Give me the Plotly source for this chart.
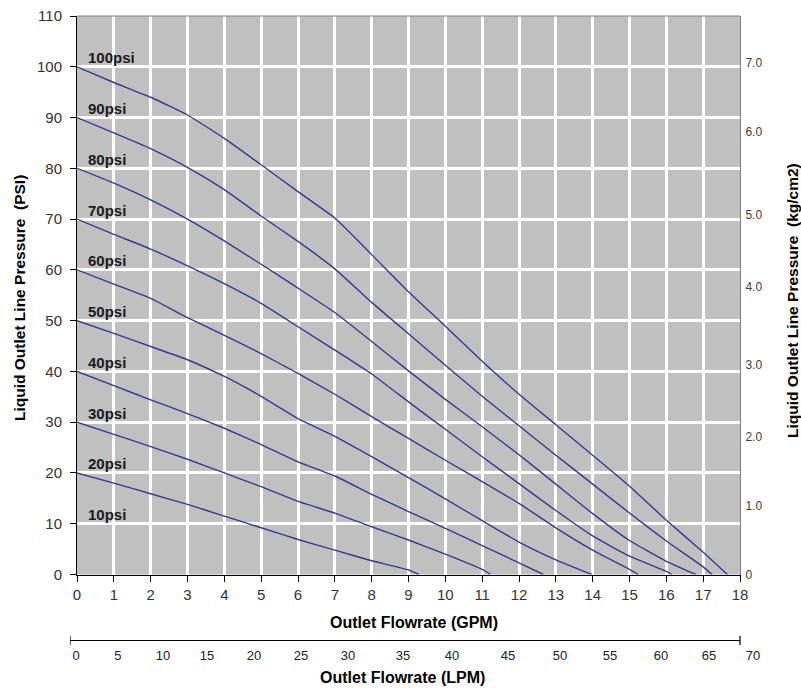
import plotly.graph_objects as go

# ---------------- data ----------------
GPM_TICKS = list(range(0, 19))
PSI_TICKS = list(range(0, 111, 10))

KG_LABELS = ["0", "1.0", "2.0", "3.0", "4.0", "5.0", "6.0", "7.0"]
KG_POS_PSI = [0, 13.5, 27.1, 41.4, 56.7, 70.8, 87.1, 100.7]

LPM_LABELS = ["0", "5", "10", "15", "20", "25", "30", "35", "40", "45",
              "50", "55", "60", "65", "70"]
LPM_POS = [0.63, 5.01, 9.72, 14.31, 19.22, 24.13, 29.04, 34.79, 39.91,
           45.76, 51.19, 56.42, 61.75, 66.76, 71.36]

CURVE_LABELS = ["10psi", "20psi", "30psi", "40psi", "50psi",
                "60psi", "70psi", "80psi", "90psi", "100psi"]
CURVE_LABEL_PSI = [10, 20, 30, 40, 50, 60, 70, 80, 90, 100]

C20_X = [0, 1, 2, 3, 4, 5, 6, 7, 8, 9, 9.28]
C20_Y = [20, 18.0, 15.9, 13.8, 11.5, 9.2, 6.9, 4.8, 2.7, 0.9, 0]

C30_X = [0, 1, 2, 3, 4, 5, 6, 7, 8, 9, 10, 11, 11.23]
C30_Y = [30, 27.6, 25.2, 22.7, 20.0, 17.3, 14.4, 12.1, 9.4, 6.8, 4.0, 1.0, 0]

C40_X = [0, 1, 2, 3, 4, 5, 6, 7, 8, 9, 10, 11, 12, 12.66]
C40_Y = [40, 37.2, 34.4, 31.7, 28.8, 25.6, 22.2, 19.4, 15.8, 12.4, 9.1, 5.7, 2.3, 0]

C50_X = [0, 1, 2, 3, 4, 5, 6, 7, 8, 9, 10, 11, 12, 13, 13.98]
C50_Y = [50, 47.5, 44.9, 42.3, 39.0, 35.1, 30.7, 27.2, 23.2, 19.1, 14.9, 10.6, 6.4, 2.9, 0]

C60_X = [0, 1, 2, 3, 4, 5, 6, 7, 8, 9, 10, 11, 12, 13, 14, 15, 15.24]
C60_Y = [60, 57.2, 54.4, 50.6, 47.1, 43.5, 39.6, 35.5, 31.1, 26.8, 22.5, 18.3,
         14.0, 9.2, 4.8, 1.0, 0]

C70_X = [0, 1, 2, 3, 4, 5, 6, 7, 8, 9, 10, 11, 12, 13, 14, 15, 16, 16.15]
C70_Y = [70, 67.0, 64.1, 60.8, 57.3, 53.4, 48.8, 44.2, 39.5, 34.0, 28.6, 23.2,
         17.9, 12.6, 7.6, 3.6, 0.6, 0]

C80_X = [0, 1, 2, 3, 4, 5, 6, 7, 8, 9, 10, 11, 12, 13, 14, 15, 16, 16.8]
C80_Y = [80, 77.1, 73.8, 70.0, 65.7, 61.1, 56.4, 51.6, 45.9, 40.1, 34.5, 29.1,
         23.6, 17.8, 12.0, 6.7, 2.6, 0]

C90_X = [0, 1, 2, 3, 4, 5, 6, 7, 8, 9, 10, 11, 12, 13, 14, 15, 16, 17, 17.24]
C90_Y = [90, 87.0, 83.9, 80.2, 75.8, 70.6, 65.6, 60.2, 53.6, 47.4, 41.2, 35.1,
         29.3, 23.5, 17.8, 12.1, 6.6, 1.5, 0]

C100_X = [0, 1, 2, 3, 4, 5, 6, 7, 8, 9, 10, 11, 12, 13, 14, 15, 16, 17, 17.66]
C100_Y = [100, 96.9, 94.0, 90.5, 85.9, 80.7, 75.4, 70.2, 63.0, 55.7, 48.9, 42.0,
          35.5, 29.5, 23.5, 17.4, 10.7, 4.4, 0]

CURVES = [(C20_X, C20_Y), (C30_X, C30_Y), (C40_X, C40_Y), (C50_X, C50_Y),
          (C60_X, C60_Y), (C70_X, C70_Y), (C80_X, C80_Y), (C90_X, C90_Y),
          (C100_X, C100_Y)]

# ---------------- figure ----------------
FONT = "Liberation Sans, Arial, sans-serif"
LINE_COLOR = "#38388f"

fig = go.Figure()
for cx, cy in CURVES:
    fig.add_trace(go.Scatter(x=cx, y=cy, mode="lines",
                             line=dict(color=LINE_COLOR, width=1.4,
                                       shape="spline", smoothing=0.4),
                             hoverinfo="skip", showlegend=False))

# invisible helper traces so the secondary axes are drawn
fig.add_trace(go.Scatter(x=[0], y=[0], yaxis="y2", mode="markers",
                         marker=dict(opacity=0), hoverinfo="skip", showlegend=False))
fig.add_trace(go.Scatter(x=[0], y=[0], xaxis="x2", yaxis="y3", mode="markers",
                         marker=dict(opacity=0), hoverinfo="skip", showlegend=False))

for lbl, p in zip(CURVE_LABELS, CURVE_LABEL_PSI):
    fig.add_annotation(x=0.25, y=p, xref="x", yref="y", text="<b>%s</b>" % lbl,
                       showarrow=False, xanchor="left", yanchor="middle",
                       yshift=9, font=dict(family=FONT, size=15, color="#1a1a1a"))

W, H = 801, 688
L, R, T, B = 40, 40, 16, 8
PW, PH = W - L - R, H - T - B


def px2x(px):
    return (px - L) / PW


def py2y(py):
    return (H - B - py) / PH


yl = py2y(640.5)

fig.update_layout(
    width=W, height=H,
    margin=dict(l=L, r=R, t=T, b=B, autoexpand=False),
    paper_bgcolor="white",
    plot_bgcolor="rgba(0,0,0,0)",
    showlegend=False,
    font=dict(family=FONT, color="#333333"),
    xaxis=dict(domain=[px2x(77), px2x(740)], range=[0, 18], tickvals=GPM_TICKS,
               showgrid=True, gridcolor="white", gridwidth=3, zeroline=False,
               showline=True, linecolor="black", linewidth=1,
               ticks="outside", ticklen=6, tickcolor="black",
               tickfont=dict(size=15, color="#333333")),
    yaxis=dict(domain=[py2y(574.5), 1], range=[0, 110], tickvals=PSI_TICKS,
               showgrid=True, gridcolor="white", gridwidth=3, zeroline=False,
               showline=True, linecolor="black", linewidth=1,
               ticks="outside", ticklen=6, tickcolor="black",
               ticklabelstandoff=5, ticklabeloverflow="allow",
               tickfont=dict(size=15, color="#333333")),
    yaxis2=dict(overlaying="y", side="right", range=[0, 110],
                tickvals=KG_POS_PSI, ticktext=KG_LABELS, showgrid=False,
                zeroline=False, showline=True, linecolor="#808080",
                ticks="", ticklabelstandoff=2,
                tickfont=dict(size=12, color="#404040")),
    yaxis3=dict(domain=[yl, yl + 0.002], range=[0, 1], visible=False,
                showgrid=False, zeroline=False, fixedrange=True),
    xaxis2=dict(anchor="y3", side="bottom",
                domain=[px2x(70), px2x(70 + 72 * 670 / 70)], range=[0, 72],
                tickvals=LPM_POS, ticktext=LPM_LABELS, showgrid=False,
                zeroline=False, showline=False, ticks="",
                ticklabelstandoff=5,
                tickfont=dict(size=13, color="#222222")),
)

# plot background and frame
fig.add_shape(type="rect", xref="x domain", yref="y domain", x0=0, x1=1, y0=0, y1=1,
              fillcolor="#c0c0c0", line=dict(width=0), layer="below")
fig.add_shape(type="line", xref="x domain", yref="y domain", x0=0, x1=1, y0=1, y1=1,
              line=dict(color="#808080", width=1))

# LPM scale line with end caps
cap = 4.5 / PH
fig.add_shape(type="line", xref="x2", yref="paper", x0=0, x1=70, y0=yl, y1=yl,
              line=dict(color="black", width=1.2))
for xv in (0, 70):
    fig.add_shape(type="line", xref="x2", yref="paper", x0=xv, x1=xv,
                  y0=yl - cap, y1=yl + cap, line=dict(color="black", width=1.2))

TITLE_FONT = dict(family=FONT, size=15.5, color="black")
fig.add_annotation(xref="paper", yref="paper", x=px2x(414), y=py2y(622),
                   text="<b>Outlet Flowrate (GPM)</b>", showarrow=False,
                   xanchor="center", yanchor="middle",
                   font=dict(family=FONT, size=16, color="black"))
fig.add_annotation(xref="paper", yref="paper", x=px2x(402), y=py2y(677),
                   text="<b>Outlet Flowrate (LPM)</b>", showarrow=False,
                   xanchor="center", yanchor="middle",
                   font=dict(family=FONT, size=16, color="black"))
fig.add_annotation(xref="paper", yref="paper", x=px2x(20), y=py2y(298),
                   text="<b>Liquid Outlet Line Pressure  (PSI)</b>", showarrow=False,
                   textangle=-90, xanchor="center", yanchor="middle", font=TITLE_FONT)
fig.add_annotation(xref="paper", yref="paper", x=px2x(792), y=py2y(301),
                   text="<b>Liquid Outlet Line Pressure  (kg/cm2)</b>", showarrow=False,
                   textangle=-90, xanchor="center", yanchor="middle", font=TITLE_FONT)

fig.write_html("out.html",
               config={"displayModeBar": False, "staticPlot": True},
               post_script="document.body.style.margin='0px';"
                           "document.body.style.overflow='hidden';")
